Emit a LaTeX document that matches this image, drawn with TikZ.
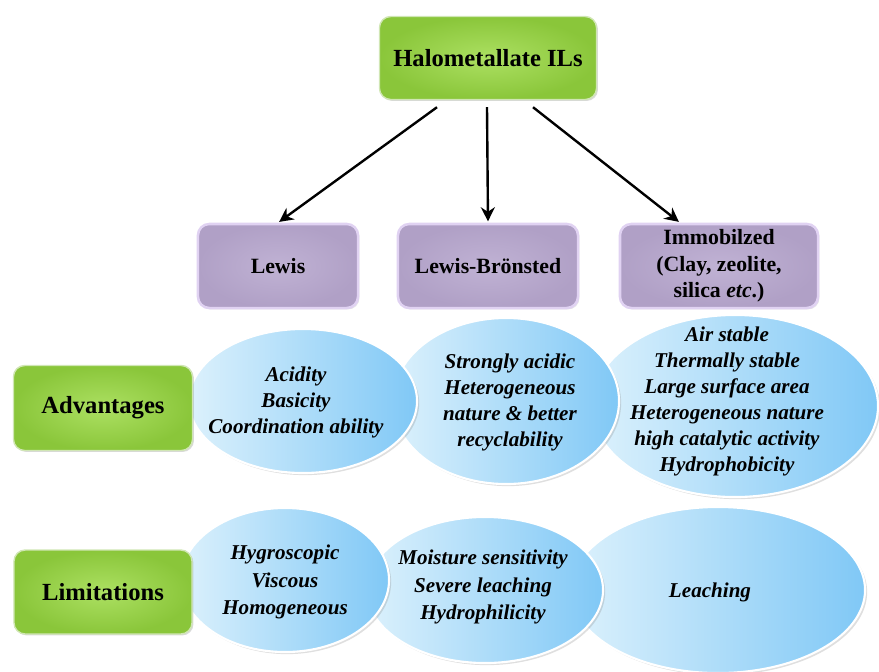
\documentclass[tikz,border=0pt]{standalone}
\usepackage{fontspec}
\setmainfont{Liberation Serif}
\usetikzlibrary{positioning, shapes, arrows.meta, shadows, calc}

\definecolor{limeout}{RGB}{138,198,58}
\definecolor{limein}{RGB}{172,224,98}
\definecolor{limeline}{RGB}{208,230,180}
\definecolor{lilacout}{RGB}{176,160,198}
\definecolor{lilacin}{RGB}{192,178,212}
\definecolor{lilacline}{RGB}{224,210,242}
\definecolor{skylight}{RGB}{220,241,252}
\definecolor{skydark}{RGB}{128,200,246}

\begin{document}
\begin{tikzpicture}[x=0.025cm, y=-0.025cm,
        greenbox/.style={rectangle, rounded corners=8pt, draw=limeline, line width=1pt,
            inner color=limein, outer color=limeout, align=center,
            drop shadow={shadow xshift=1pt, shadow yshift=-1pt, opacity=0.3},
            font=\bfseries\fontsize{17.5}{20}\selectfont},
        purplebox/.style={rectangle, rounded corners=8pt, draw=lilacline, line width=1.8pt,
            inner color=lilacin, outer color=lilacout, align=center, inner sep=1pt,
            minimum height=2.1cm,
            drop shadow={shadow xshift=1pt, shadow yshift=-1pt, opacity=0.2},
            font=\bfseries\fontsize{15.5}{19}\selectfont},
        blob/.style={ellipse, draw=white, line width=1.5pt, inner sep=0pt,
            left color=skylight, right color=skydark,
            drop shadow={shadow xshift=1.5pt, shadow yshift=-1.5pt, opacity=0.25}},
        blobtext/.style={align=center, font=\bfseries\itshape\fontsize{15}{18.5}\selectfont},
        link/.style={-{Stealth[length=10pt, width=10pt]}, line width=1.7pt, shorten >=1pt}
    ]
    \useasboundingbox (0,0) rectangle (879,671);

    % top and the three kinds
    \node[greenbox, minimum width=5.425cm, minimum height=2.075cm] (halo) at (488,58) {Halometallate ILs};
    \node[purplebox, minimum width=4cm] (lewis) at (278,266) {Lewis};
    \node[purplebox, minimum width=4.5cm] (lb) at (488,266) {Lewis-Brönsted};
    \node[purplebox, minimum width=4.95cm] (immob) at (719,266) {Immobilzed\\(Clay, zeolite,\\silica \textit{etc}.)};

    \draw[link] ($(halo.south)+(-51,7)$) -- (lewis.north);
    \draw[link] ($(halo.south)+(-1,7)$) -- (lb.north);
    \draw[link] ($(halo.south)+(45,7)$) -- ($(immob.north)+(-39,0)$);

    % advantages row
    \node[blob, minimum width=7.15cm, minimum height=4.55cm] (adv3) at (735,406) {};
    \node[blob, minimum width=5.65cm, minimum height=4.15cm] (adv2) at (506,401) {};
    \node[blob, minimum width=5.7cm, minimum height=3.6cm] (adv1) at (303,401) {};
    \node[blobtext] (adv1t) at (296,402) {Acidity\\Basicity\\Coordination ability};
    \node[blobtext] (adv2t) at (510,402) {Strongly acidic\\Heterogeneous\\nature \& better\\recyclability};
    \node[blobtext] (adv3t) at (727,401) {Air stable\\Thermally stable\\Large surface area\\Heterogeneous nature\\high catalytic activity\\Hydrophobicity};

    % limitations row
    \node[blob, minimum width=7.35cm, minimum height=4.15cm] (lim3) at (718,590) {};
    \node[blob, minimum width=5.9cm, minimum height=3.65cm] (lim2) at (485,590) {};
    \node[blob, minimum width=5.2cm, minimum height=3.6cm] (lim1) at (285,580) {};
    \node[blobtext, font=\bfseries\itshape\fontsize{15}{19.5}\selectfont] (lim1t) at (285,582) {Hygroscopic\\Viscous\\Homogeneous};
    \node[blobtext, font=\bfseries\itshape\fontsize{15}{19.5}\selectfont] (lim2t) at (483,587) {Moisture sensitivity\\Severe leaching\\Hydrophilicity};
    \node[blobtext] (lim3t) at (710,592) {Leaching};

    % row labels
    \node[greenbox, minimum width=4.475cm, minimum height=2.125cm] (adv) at (103,408) {Advantages};
    \node[greenbox, minimum width=4.45cm, minimum height=2.1cm] (lim) at (103,592) {Limitations};
\end{tikzpicture}
\end{document}
